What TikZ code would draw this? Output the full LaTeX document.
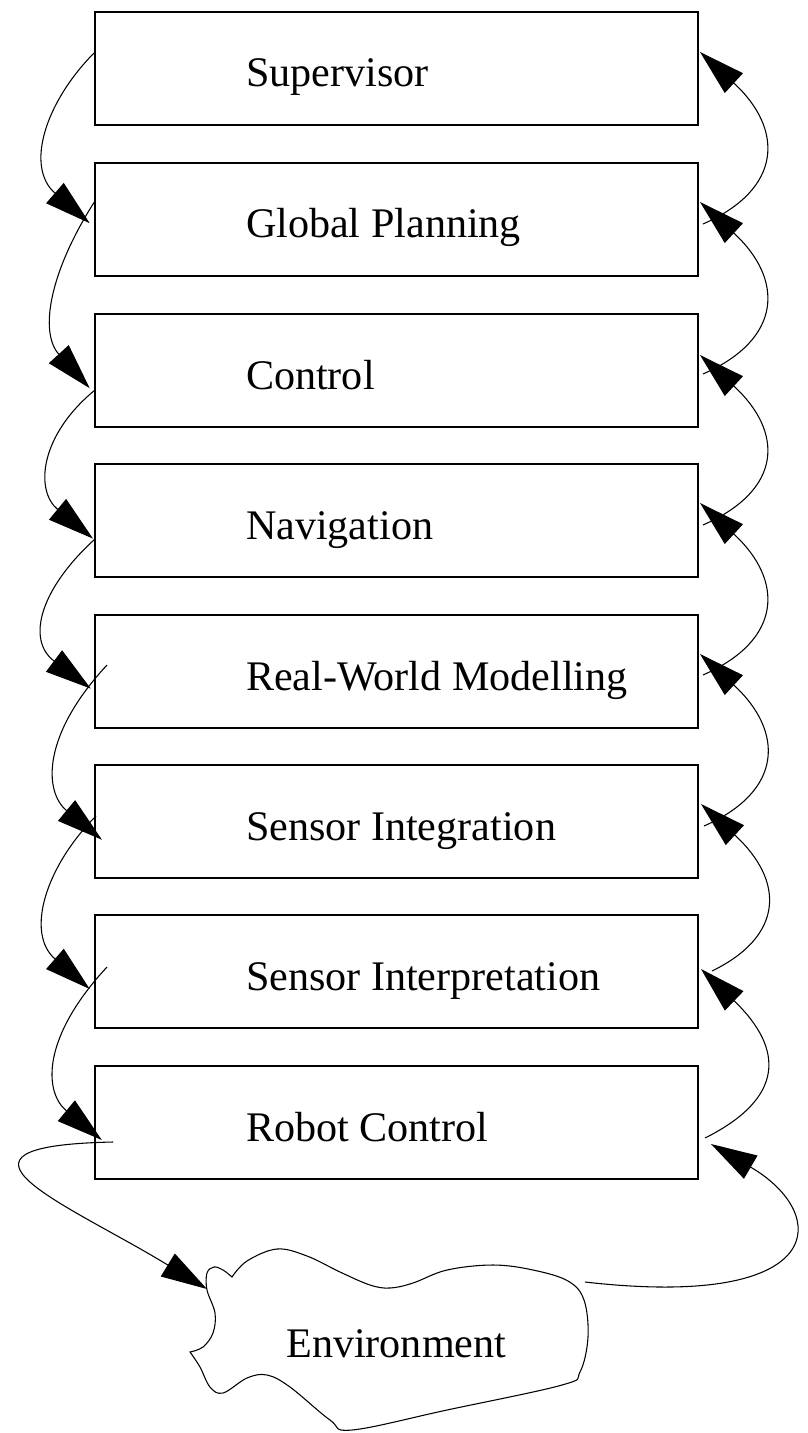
\documentclass[tikz,border=0pt]{standalone}
\usepackage{fontspec}
\setmainfont{Liberation Serif}
\usetikzlibrary{arrows.meta,calc}
\newcommand\boxlbl[1]{\makebox[452.25pt][l]{\hspace*{113.25pt}#1}}
\begin{document}
\begin{tikzpicture}[x=0.75pt,y=-0.75pt,
  blk/.style={draw, rectangle, line width=1pt, minimum width=452.25pt, minimum height=84.75pt,
    inner sep=0pt, outer sep=0pt, text height=31.5pt, text depth=3.75pt, anchor=north west,
    font=\fontsize{31.6}{38}\selectfont},
  arr/.style={line width=0.8pt, -{Triangle[length=34.5pt,width=20pt]}},
  cloudline/.style={line width=0.8pt}]
\useasboundingbox (0,0) rectangle (807,1433);

\node[blk] (b1) at (95,12)   {\boxlbl{Supervisor}};
\node[blk] (b2) at (95,163)  {\boxlbl{Global Planning}};
\node[blk] (b3) at (95,314)  {\boxlbl{Control}};
\node[blk] (b4) at (95,464)  {\boxlbl{Navigation}};
\node[blk] (b5) at (95,615)  {\boxlbl{Real-World Modelling}};
\node[blk] (b6) at (95,765)  {\boxlbl{Sensor Integration}};
\node[blk] (b7) at (95,915)  {\boxlbl{Sensor Interpretation}};
\node[blk] (b8) at (95,1066) {\boxlbl{Robot Control}};

% Environment cloud
\node[font=\fontsize{31.6}{38}\selectfont, anchor=base west, inner sep=0pt] (env) at (286,1357) {Environment};
\coordinate (envin) at (207,1289);
\coordinate (envout) at (585,1282);
\draw[cloudline] plot[smooth,tension=0.6] coordinates {(190,1352) (203,1347) (213,1333) (215,1313) (207,1290) (207,1273) (214,1267) (223,1270) (232,1277)}
  -- plot[smooth,tension=0.6] coordinates {(232,1277) (247,1261) (277,1249) (307,1256) (340,1272) (370,1285) (390,1288) (413,1283) (447,1270) (493,1265) (533,1270) (568,1281) (584,1300) (588,1337) (580,1372) (562,1385) (447,1410) (352,1430) (330,1420) (290,1387) (267,1375) (247,1378) (223,1393) (210,1387) (200,1367) (190,1352)} -- cycle;

% left (downward) connectors
\draw[arr] ($(b1.north west)+(0,40)$) .. controls +(-50,50) and +(-64.8,-56.1) .. ($(b2.north west)+(-5.3,60.2)$);
\draw[arr] ($(b2.north west)+(0,38)$) .. controls +(-45,70) and +(-51,-56.1) .. ($(b3.north west)+(-5.3,74.2)$);
\draw[arr] ($(b3.north west)+(0,76)$) .. controls +(-55,45) and +(-58.5,-48.3) .. ($(b4.north west)+(-2,74.6)$);
\draw[arr] ($(b4.north west)+(0,75)$) .. controls +(-55,50) and +(-64.8,-48.6) .. ($(b5.north west)+(-4.2,73.6)$);
\draw[arr] ($(b5.north west)+(12,50)$) .. controls +(-65,70) and +(-58.5,-48.3) .. ($(b6.north west)+(7,74.8)$);
\draw[arr] ($(b6.north west)+(1,51)$) .. controls +(-50,50) and +(-64.8,-56.1) .. ($(b7.north west)+(-5.3,74)$);
\draw[arr] ($(b7.north west)+(12,52)$) .. controls +(-65,70) and +(-58.5,-48.3) .. ($(b8.north west)+(6.8,74)$);
\draw[arr] ($(b8.north west)+(18,76)$) .. controls +(-195,4) and +(-137.2,-84) .. (envin);

% right (upward) connectors
\draw[arr] ($(b2.north east)+(5,61)$) .. controls +(80,-35) and +(83.9,77.1) .. ($(b1.north east)+(2,40)$);
\draw[arr] ($(b3.north east)+(5,60)$) .. controls +(80,-35) and +(83.9,77.1) .. ($(b2.north east)+(2,39)$);
\draw[arr] ($(b4.north east)+(5,61)$) .. controls +(80,-35) and +(83.9,77.1) .. ($(b3.north east)+(2,41)$);
\draw[arr] ($(b5.north east)+(5,60)$) .. controls +(80,-35) and +(83.9,77.1) .. ($(b4.north east)+(2,39)$);
\draw[arr] ($(b6.north east)+(6,61)$) .. controls +(80,-35) and +(83.9,77.1) .. ($(b5.north east)+(2,39)$);
\draw[arr] ($(b7.north east)+(14,56)$) .. controls +(72,-35) and +(83.9,77.1) .. ($(b6.north east)+(3,39)$);
\draw[arr] ($(b8.north east)+(7,72)$) .. controls +(80,-40) and +(83.2,79.9) .. ($(b7.north east)+(3,54)$);
\draw[arr] (envout) .. controls +(245,28) and +(120,70) .. ($(b8.north east)+(13,78)$);
\end{tikzpicture}
\end{document}
